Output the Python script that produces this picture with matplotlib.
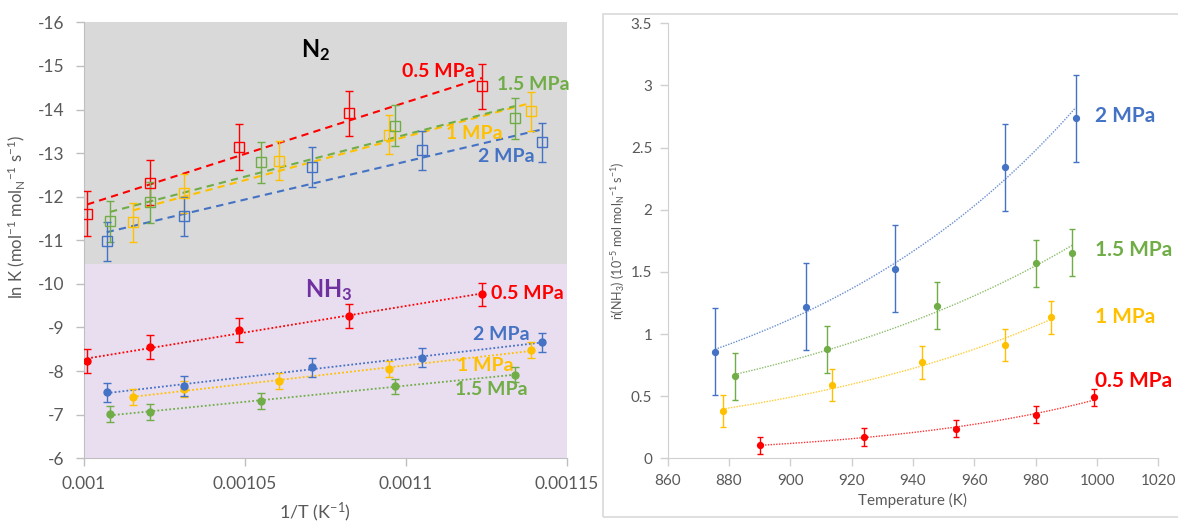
import numpy as np
import matplotlib
matplotlib.use("Agg")
import matplotlib.pyplot as plt
from matplotlib.patches import Rectangle

plt.rcParams["font.family"] = ["Lato", "DejaVu Sans"]
plt.rcParams["mathtext.default"] = "regular"
plt.rcParams["axes.unicode_minus"] = False

# reaction temperatures (K), one list per pressure
temp_05 = [890, 924, 954, 980, 999]
temp_1 = [878, 913.5, 943, 970, 985]
temp_15 = [882, 912, 948, 980, 992]
temp_2 = [875.5, 905, 934, 970, 993]

# ln K for N2 (same order as temperatures)
lnk_n2_05 = [-14.53, -13.91, -13.14, -12.32, -11.61]
lnk_n2_1 = [-13.96, -13.42, -12.83, -12.08, -11.41]
lnk_n2_15 = [-13.80, -13.63, -12.79, -11.87, -11.44]
lnk_n2_2 = [-13.25, -13.06, -12.68, -11.55, -10.98]
err_n2 = [0.52, 0.45, 0.47, 0.45]

# ln K for NH3
lnk_nh3_05 = [-9.76, -9.26, -8.94, -8.55, -8.23]
lnk_nh3_1 = [-8.49, -8.05, -7.77, -7.59, -7.40]
lnk_nh3_15 = [-7.92, -7.65, -7.31, -7.06, -7.01]
lnk_nh3_2 = [-8.66, -8.31, -8.09, -7.66, -7.51]
err_nh3 = [0.27, 0.18, 0.18, 0.22]

# NH3 production rate (1e-5 mol mol_N^-1 s^-1)
rate_05 = [0.105, 0.172, 0.238, 0.351, 0.49]
rate_1 = [0.381, 0.59, 0.772, 0.909, 1.134]
rate_15 = [0.66, 0.877, 1.228, 1.569, 1.654]
rate_2 = [0.858, 1.22, 1.525, 2.343, 2.738]
err_rate = [0.07, 0.13, 0.19, 0.35]

labels = ["0.5 MPa", "1 MPa", "1.5 MPa", "2 MPa"]
colors = ["#FF0000", "#FFC000", "#70AD47", "#4472C4"]

left_xticks = [0.001, 0.00105, 0.0011, 0.00115]
left_xticklabels = ["0.001", "0.00105", "0.0011", "0.00115"]
left_yticks = [-16, -15, -14, -13, -12, -11, -10, -9, -8, -7, -6]
right_xticks = [860, 880, 900, 920, 940, 960, 980, 1000, 1020]
right_yticks = [0, 0.5, 1, 1.5, 2, 2.5, 3, 3.5]
right_yticklabels = ["0", "0.5", "1", "1.5", "2", "2.5", "3", "3.5"]

temps = [temp_05, temp_1, temp_15, temp_2]
n2_sets = [lnk_n2_05, lnk_n2_1, lnk_n2_15, lnk_n2_2]
nh3_sets = [lnk_nh3_05, lnk_nh3_1, lnk_nh3_15, lnk_nh3_2]
rate_sets = [rate_05, rate_1, rate_15, rate_2]

# label positions (x, y in data coords)
n2_label_pos = [(0.0010988, -14.87), (0.0011124, -13.46), (0.0011283, -14.58), (0.0011224, -12.93)]
nh3_label_pos = [(0.0011263, -9.78), (0.0011158, -8.12), (0.0011151, -7.57), (0.0011208, -8.83)]
rate_label_pos = [(999.3, 0.624), (999.3, 1.139), (999.3, 1.676), (999.3, 2.756)]

W, H = 1178, 523
fig = plt.figure(figsize=(W / 100, H / 100), dpi=100)

# frame round the right-hand chart
fig.add_artist(Rectangle((603 / W, 1 - 517.3 / H), 0.6, (517.3 - 14.3) / H,
                         transform=fig.transFigure, fill=False,
                         edgecolor="#D9D9D9", lw=1.2, clip_on=False))

tick_grey = "#595959"
spine_grey = "#BFBFBF"

# ---- left: Arrhenius plot ----
ax1 = fig.add_axes([84 / W, 1 - 458.3 / H, 483 / W, 436 / H])
ax1.set_xlim(0.001, 0.00115)
ax1.set_ylim(-6, -16)
ax1.axhspan(-16, -10.45, color="#D9D9D9", lw=0, zorder=0)
ax1.axhspan(-10.45, -6, color="#E9DEF0", lw=0, zorder=0)

for t, n2, nh3, e1, e2, c, lab, p1, p2 in zip(temps, n2_sets, nh3_sets, err_n2, err_nh3,
                                             colors, labels, n2_label_pos, nh3_label_pos):
    inv_t = 1.0 / np.array(t)
    ax1.errorbar(inv_t, n2, yerr=e1, fmt="s", ms=6.5, mfc="none", mec=c, mew=1,
                 ecolor=c, elinewidth=1, capsize=3, capthick=1, zorder=3)
    k, b = np.polyfit(inv_t, n2, 1)
    xs = np.array([inv_t.min(), inv_t.max()])
    ax1.plot(xs, k * xs + b, color=c, lw=1.5, ls=(0, (3.5, 2.5)), zorder=2)
    ax1.text(p1[0], p1[1], lab, color=c, fontsize=14, fontweight="bold", ha="left", va="center")

    ax1.errorbar(inv_t, nh3, yerr=e2, fmt="o", ms=5, color=c, ecolor=c,
                 elinewidth=1, capsize=3, capthick=1, zorder=3)
    k, b = np.polyfit(inv_t, nh3, 1)
    ax1.plot(xs, k * xs + b, color=c, lw=1.3, ls=(0, (1, 1.2)), zorder=2)
    ax1.text(p2[0], p2[1], lab, color=c, fontsize=14, fontweight="bold", ha="left", va="center")

ax1.text(0.0010720, -15.36, "N$_2$", color="black", fontsize=17, fontweight="bold",
         ha="center", va="center")
ax1.text(0.0010761, -9.85, "NH$_3$", color="#7030A0", fontsize=17, fontweight="bold",
         ha="center", va="center")

ax1.set_xticks(left_xticks)
ax1.set_xticklabels(left_xticklabels)
ax1.set_yticks(left_yticks)
ax1.set_yticklabels([str(v) for v in left_yticks])
ax1.tick_params(direction="out", length=6, width=1, color=spine_grey,
                labelcolor=tick_grey, labelsize=12.5)
ax1.tick_params(axis="x", pad=7)
ax1.tick_params(axis="y", pad=8)
for s in ["top", "right"]:
    ax1.spines[s].set_visible(False)
for s in ["left", "bottom"]:
    ax1.spines[s].set_color(spine_grey)
ax1.set_xlabel("1/T (K$^{-1}$)", fontsize=13, color=tick_grey, va="center")
ax1.xaxis.set_label_coords(0.478, -0.125)
ax1.set_ylabel("ln K (mol$^{-1}$ mol$_N$$^{-1}$ s$^{-1}$)", fontsize=12, color=tick_grey,
               va="center")
ax1.yaxis.set_label_coords(-0.141, 0.553)

# ---- right: NH3 rate vs temperature ----
ax2 = fig.add_axes([667.5 / W, 1 - 458.3 / H, 490.9 / W, 435 / H])
ax2.set_xlim(860, 1020)
ax2.set_ylim(0, 3.5)

for t, r, e, c, lab, p in zip(temps, rate_sets, err_rate, colors, labels, rate_label_pos):
    t = np.array(t)
    ax2.errorbar(t, r, yerr=e, fmt="o", ms=4.2, color=c, ecolor=c,
                 elinewidth=1, capsize=2.5, capthick=1, zorder=3)
    k, b = np.polyfit(t, np.log(r), 1)
    ts = np.linspace(t.min(), t.max(), 100)
    ax2.plot(ts, np.exp(k * ts + b), color=c, lw=1, ls=(0, (1, 1)), alpha=0.8, zorder=2)
    ax2.text(p[0], p[1], lab, color=c, fontsize=15, fontweight="bold", ha="left", va="center")

ax2.set_xticks(right_xticks)
ax2.set_yticks(right_yticks)
ax2.set_yticklabels(right_yticklabels)
ax2.tick_params(direction="out", length=6, width=1, color="#D0D0D0",
                labelcolor=tick_grey, labelsize=11)
ax2.tick_params(axis="x", pad=5)
ax2.tick_params(axis="y", pad=5)
for s in ["top", "right"]:
    ax2.spines[s].set_visible(False)
for s in ["left", "bottom"]:
    ax2.spines[s].set_color("#D0D0D0")
ax2.set_xlabel("Temperature (K)", fontsize=11, color=tick_grey, va="center")
ax2.xaxis.set_label_coords(0.499, -0.098)
ax2.set_ylabel("ṅ(NH$_3$) (10$^{-5}$ mol mol$_N$$^{-1}$ s$^{-1}$)", fontsize=9,
               color=tick_grey, va="center")
ax2.yaxis.set_label_coords(-0.101, 0.5)

fig.savefig("out.png", dpi=100)
